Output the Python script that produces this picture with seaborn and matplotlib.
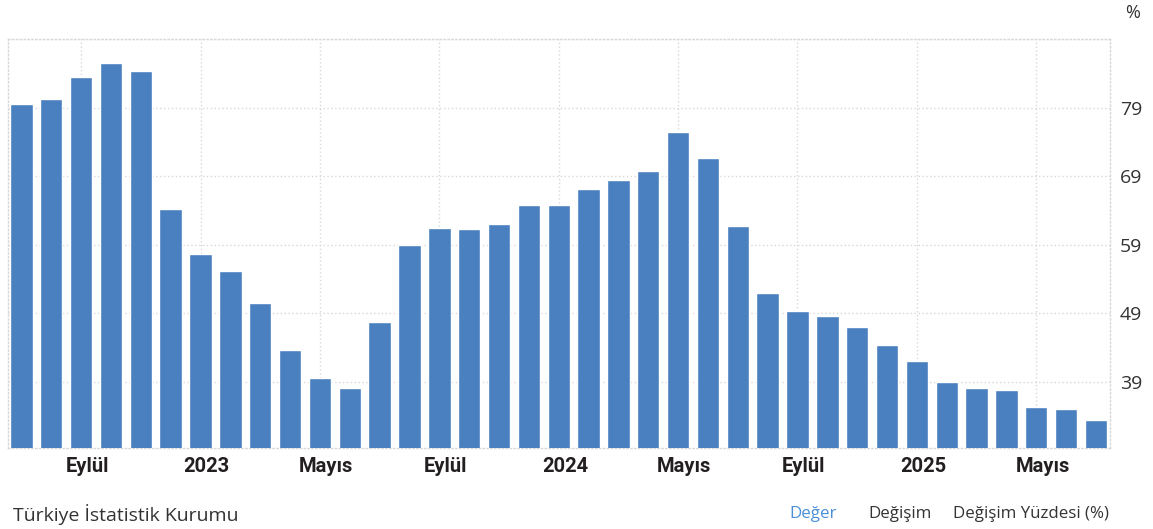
import matplotlib
matplotlib.use("Agg")
import matplotlib.pyplot as plt
import seaborn as sns
import pandas as pd

# Monthly annual CPI inflation, Jul 2022 - Jul 2025
months = [
    "2022-07", "2022-08", "2022-09", "2022-10", "2022-11", "2022-12",
    "2023-01", "2023-02", "2023-03", "2023-04", "2023-05", "2023-06",
    "2023-07", "2023-08", "2023-09", "2023-10", "2023-11", "2023-12",
    "2024-01", "2024-02", "2024-03", "2024-04", "2024-05", "2024-06",
    "2024-07", "2024-08", "2024-09", "2024-10", "2024-11", "2024-12",
    "2025-01", "2025-02", "2025-03", "2025-04", "2025-05", "2025-06",
    "2025-07",
]
values = [
    79.60, 80.21, 83.45, 85.51, 84.39, 64.27,
    57.68, 55.18, 50.51, 43.68, 39.59, 38.21,
    47.83, 58.94, 61.53, 61.36, 61.98, 64.77,
    64.86, 67.07, 68.50, 69.80, 75.45, 71.60,
    61.78, 51.97, 49.38, 48.58, 47.09, 44.38,
    42.12, 39.05, 38.10, 37.86, 35.41, 35.05,
    33.52,
]
month_names = {"09": "Eylül", "05": "Mayıs"}
y_ticks = [39, 49, 59, 69, 79, 89]
y_labels = ["39", "49", "59", "69", "79", ""]

df = pd.DataFrame({"month": months, "value": values})

sns.set_theme(style="white")
plt.rcParams["font.family"] = ["Open Sans", "DejaVu Sans"]

fig = plt.figure(figsize=(11.53, 5.29), dpi=100)
ax = fig.add_axes([8 / 1153, 1 - 448 / 529, (1110 - 8) / 1153, (448 - 39) / 529])

sns.barplot(data=df, x="month", y="value", color="#4a80c0", saturation=1,
            width=0.75, ax=ax, zorder=3)

# tick positions: every September, January (year) and May
tick_pos, tick_lab = [], []
for i, m in enumerate(months):
    yr, mo = m.split("-")
    if mo == "01":
        tick_pos.append(i); tick_lab.append(yr)
    elif mo in month_names:
        tick_pos.append(i); tick_lab.append(month_names[mo])

ax.set_xlim(-0.45, len(months) - 1 + 0.47)
ax.set_ylim(29.4, 89)
ax.set_xticks(tick_pos)
ax.set_xticklabels([])
# category labels sit just right of their gridline, below the plot
for p, lab in zip(tick_pos, tick_lab):
    ax.annotate(lab, xy=(p, 0), xycoords=("data", "axes fraction"),
                xytext=(4.5, -13), textcoords="offset points",
                ha="center", va="center", fontsize=14.5, fontweight="bold",
                color="#231f20", fontfamily=["Roboto", "DejaVu Sans"])

ax.yaxis.tick_right()
ax.set_yticks(y_ticks)
ax.set_yticklabels(y_labels, fontsize=14, color="#333333")
ax.tick_params(axis="both", length=0)
ax.tick_params(axis="y", pad=7)
ax.set_xlabel("")
ax.set_ylabel("")

ax.grid(True, axis="both", linestyle=(0, (1.0, 1.8)), color="#d8d8d8", linewidth=1.0, zorder=0)
for side in ["top", "bottom", "left", "right"]:
    ax.spines[side].set_visible(True)
    ax.spines[side].set_linestyle((0, (1.0, 1.8)))
    ax.spines[side].set_color("#d8d8d8")
    ax.spines[side].set_linewidth(1.0)

fig.text(1133 / 1153, 1 - 13 / 529, "%", fontsize=13, color="#333333",
         ha="center", va="center")
fig.text(13 / 1153, 1 - 515 / 529, "Türkiye İstatistik Kurumu", fontsize=14,
         color="#333333", ha="left", va="center")
fig.text(813 / 1153, 1 - 514 / 529, "Değer", fontsize=12.2, color="#4a8fd6",
         ha="center", va="center")
fig.text(900 / 1153, 1 - 514 / 529, "Değişim", fontsize=12.2, color="#333333",
         ha="center", va="center")
fig.text(1031 / 1153, 1 - 514 / 529, "Değişim Yüzdesi (%)", fontsize=12.2,
         color="#333333", ha="center", va="center")

fig.savefig("out.png", dpi=100)
